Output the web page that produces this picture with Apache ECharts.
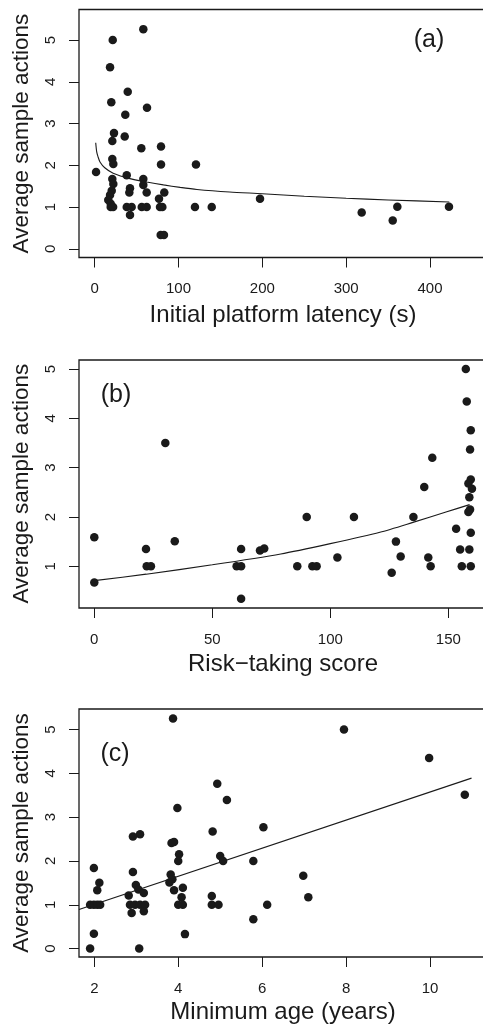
<!DOCTYPE html>
<html><head><meta charset="utf-8">
<script src="https://cdn.jsdelivr.net/npm/echarts@6/dist/echarts.min.js"></script>
<style>html,body{margin:0;padding:0;background:#fff;overflow:hidden;}#c{width:483px;height:1027px;}</style>
</head><body><div id="c"></div>
<script>
// Panel (a): initial platform latency (s) vs average sample actions
const latencyX = [58,21.5,18.3,39.4,19.8,62.4,36.5,23,35.8,21,55.6,79.1,21,22.2,79.1,120.8,1.6,38.2,21,58,22.2,58,42.1,20.3,62,41.3,83,18.3,76.7,16.2,19.1,19.1,22,38.2,44.1,56.1,62,77.9,80.7,119.6,139.6,42.1,78.7,82.6,197.2,318.5,361,355.5,422.6];
const latencyY = [5.26,5.0,4.35,3.76,3.51,3.38,3.21,2.77,2.69,2.58,2.41,2.45,2.15,2.03,2.02,2.02,1.84,1.76,1.67,1.67,1.55,1.53,1.45,1.39,1.35,1.35,1.35,1.29,1.20,1.17,1.08,1.0,1.0,1.0,1.0,1.0,1.0,1.0,1.0,1.0,1.0,0.81,0.33,0.33,1.20,0.87,1.01,0.68,1.01];
const latencyFitX = [1.2,2.4,4,6.3,12,22,42,62,82,102,122,161,200,250,300,350,423];
const latencyFitY = [2.54,2.32,2.2,2.08,1.94,1.81,1.68,1.60,1.53,1.47,1.42,1.36,1.32,1.26,1.21,1.17,1.12];
const latencyTicks = [0,100,200,300,400];
const actionTicksA = [0,1,2,3,4,5];

// Panel (b): risk-taking score
const riskX = [157.4,157.8,159.5,159.2,143.2,139.8,159.5,158.5,160,158.9,159.2,158.5,135.2,153.3,159.5,127.8,155,158.9,129.8,141.5,142.5,155.7,159.5,126,30.1,0,0,21.9,22.2,24.0,34.1,60.3,62.2,62.2,62.2,70.2,72,86,90,92.4,94.2,103,110];
const riskY = [5.0,4.34,3.76,3.37,3.20,2.61,2.76,2.68,2.57,2.40,2.15,2.10,2.0,1.76,1.68,1.50,1.34,1.34,1.20,1.18,1.0,1.0,1.0,0.87,3.50,1.59,0.67,1.35,1.0,1.0,1.51,1.0,1.0,1.35,0.34,1.32,1.36,1.0,2.0,1.0,1.0,1.18,2.0];
const riskFitX = [0,22,50,79,100,121,135,149,159];
const riskFitY = [0.71,0.84,1.03,1.25,1.46,1.69,1.89,2.10,2.25];
const riskTicks = [0,50,100,150];
const actionTicksB = [1,2,3,4,5];

// Panel (c): minimum age (years)
const ageX = [3.876,7.95,9.98,4.93,10.83,5.16,3.98,6.03,4.82,3.09,2.92,3.90,3.84,4.02,5.0,4.0,5.07,5.79,1.99,2.92,3.82,6.98,3.86,2.12,3.79,2.99,4.11,2.07,3.05,3.90,3.18,2.82,4.80,4.08,7.10,1.90,1.99,2.07,2.14,2.85,2.97,3.09,3.21,4.00,4.11,4.80,4.96,6.12,2.89,3.18,5.79,1.99,4.16,1.90,3.07];
const ageY = [5.25,5.0,4.35,3.76,3.51,3.39,3.21,2.77,2.67,2.61,2.56,2.43,2.41,2.15,2.11,2.0,2.0,2.0,1.84,1.75,1.69,1.66,1.58,1.50,1.51,1.45,1.39,1.33,1.35,1.33,1.27,1.21,1.20,1.17,1.17,1.0,1.0,1.0,1.0,1.0,1.0,1.0,1.0,1.0,1.0,1.0,1.0,1.0,0.81,0.85,0.67,0.34,0.33,0.0,0.0];
const ageFitX = [1.635,10.99];
const ageFitY = [0.89,3.89];
const ageTicks = [2,4,6,8,10];
const actionTicksC = [0,1,2,3,4,5];

const zip = (xs, ys) => xs.map((x, i) => [x, ys[i]]);
const FONT = '"Liberation Sans", Arial, Helvetica, sans-serif';
const INK = '#1a1a1a';

function xAxisCfg(gi, min, max, ticks) {
  return {
    type: 'value', gridIndex: gi, min: min, max: max,
    axisLine: { show: false, onZero: false },
    axisTick: { show: true, customValues: ticks, length: 10, lineStyle: { color: INK, width: 1 } },
    axisLabel: { customValues: ticks, margin: 24, fontSize: 15, color: INK, fontFamily: FONT },
    splitLine: { show: false }
  };
}
function yAxisCfg(gi, min, max, ticks) {
  return {
    type: 'value', gridIndex: gi, min: min, max: max,
    axisLine: { show: false, onZero: false },
    axisTick: { show: true, customValues: ticks, length: 10, lineStyle: { color: INK, width: 1 } },
    axisLabel: { customValues: ticks, rotate: 90, margin: 21, fontSize: 15, color: INK, fontFamily: FONT },
    splitLine: { show: false }
  };
}
// the plot boxes run past the right edge of the picture, as in the reference
const gridBase = { show: true, borderColor: INK, borderWidth: 1.3, left: 79, width: 430, height: 248, outerBoundsMode: 'none', containLabel: false };

const chart = echarts.init(document.getElementById('c'), null, { renderer: 'canvas' });
function scatter(gi, data) {
  return { type: 'scatter', xAxisIndex: gi, yAxisIndex: gi, data: data, symbol: 'circle', symbolSize: 8.5, itemStyle: { color: INK, opacity: 1 }, silent: true, z: 3 };
}
function fitLine(gi, data) {
  return { type: 'line', xAxisIndex: gi, yAxisIndex: gi, data: data, showSymbol: false, smooth: 0.25, lineStyle: { color: INK, width: 1.1 }, silent: true, z: 2 };
}
function text(x, y, s, size, rot) {
  return { type: 'text', x: x, y: y, rotation: rot || 0, style: { text: s, fill: INK, font: size + 'px ' + FONT, textAlign: 'center', textVerticalAlign: 'middle' }, silent: true };
}

chart.setOption({
  animation: false,
  backgroundColor: '#fff',
  grid: [
    Object.assign({ top: 9.5 }, gridBase),
    Object.assign({ top: 360 }, gridBase),
    Object.assign({ top: 709 }, gridBase)
  ],
  xAxis: [
    xAxisCfg(0, -18.73, 494.2, latencyTicks),
    xAxisCfg(1, -6.48, 175.7, riskTicks),
    xAxisCfg(2, 1.635, 11.883, ageTicks)
  ],
  yAxis: [
    yAxisCfg(0, -0.208, 5.730, actionTicksA),
    yAxisCfg(1, 0.154, 5.183, actionTicksB),
    yAxisCfg(2, -0.192, 5.467, actionTicksC)
  ],
  series: [
    fitLine(0, zip(latencyFitX, latencyFitY)),
    scatter(0, zip(latencyX, latencyY)),
    fitLine(1, zip(riskFitX, riskFitY)),
    scatter(1, zip(riskX, riskY)),
    fitLine(2, zip(ageFitX, ageFitY)),
    scatter(2, zip(ageX, ageY))
  ],
  graphic: [
    text(283, 315, 'Initial platform latency (s)', 24),
    text(283, 664, 'Risk\u2212taking score', 24),
    text(283, 1012, 'Minimum age (years)', 24),
    text(22, 133.6, 'Average sample actions', 22.5, Math.PI / 2),
    text(22, 483.7, 'Average sample actions', 22.5, Math.PI / 2),
    text(22, 833, 'Average sample actions', 22.5, Math.PI / 2),
    text(429, 40, '(a)', 25),
    text(116, 395, '(b)', 25),
    text(115, 754, '(c)', 25)
  ]
});
</script>
</body></html>
